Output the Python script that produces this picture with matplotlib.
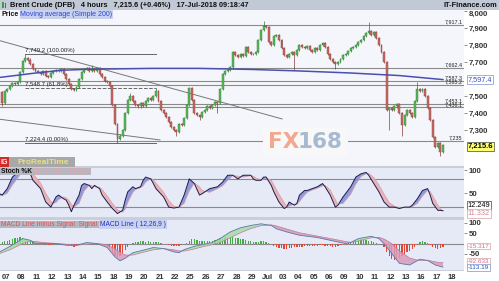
import matplotlib
matplotlib.use('Agg')
import matplotlib.pyplot as plt
from matplotlib.patches import Rectangle
from matplotlib.transforms import blended_transform_factory as btf
import numpy as np

# ---------------- data ----------------
first_bar = -2
first_open = 7527
closes = [7462, 7530,
          7545, 7560, 7575, 7570, 7585, 7640, 7705, 7725, 7715, 7690, 7660, 7650,
          7640, 7630, 7645, 7620, 7610, 7635, 7650, 7655, 7645, 7660, 7630, 7600,
          7570, 7545, 7535, 7555, 7600, 7640, 7660, 7665, 7650, 7660, 7650, 7665,
          7630, 7610, 7590, 7585, 7560, 7450, 7340, 7250, 7270, 7300, 7400, 7480,
          7500, 7470, 7450, 7440, 7460, 7445, 7470, 7490, 7480, 7500, 7530, 7470,
          7420, 7400, 7380, 7350, 7320, 7300, 7290, 7340, 7330, 7370, 7450, 7550,
          7480, 7400, 7390, 7380, 7410, 7420, 7440, 7430, 7450, 7465, 7460, 7540,
          7630, 7650, 7655, 7670, 7760, 7740, 7730, 7745, 7735, 7790, 7760, 7750,
          7745, 7760, 7830, 7890, 7910, 7905, 7820, 7800, 7850, 7860, 7830, 7780,
          7740, 7730, 7750, 7760, 7740, 7770, 7800, 7790, 7780, 7795, 7770, 7760,
          7780, 7770, 7800, 7810, 7790, 7750, 7720, 7700, 7690, 7700, 7720, 7740,
          7750, 7765, 7780, 7790, 7800, 7815, 7830, 7850, 7870, 7880, 7860, 7875,
          7840, 7800, 7760, 7700, 7420, 7430, 7420, 7440, 7455, 7400, 7330, 7390,
          7420, 7400, 7380, 7470, 7540, 7530, 7540, 7500, 7430, 7360, 7260, 7200,
          7225, 7175, 7215.6]
wick_bars = [-2, 7, 33, 43, 48, 58, 66, 75, 82, 100, 112, 128, 141, 149, 154, 160, 169]
wick_vals = [7440, 7749.2, 7680, 7224.4, 7520, 7550, 7270, 7360, 7400, 7940, 7655, 7662,
             7937, 7300, 7265, 7585, 7150]

ma_bars = [-3, 10, 21, 32, 56, 75, 95, 114, 134, 153, 170]
ma_vals = [7610, 7634, 7652, 7658, 7663, 7663, 7657, 7648, 7636, 7621, 7597.4]

levels = [7917.1, 7662.4, 7587.3, 7565.2, 7453.1, 7436.1, 7235]
level_labels = ['7,917.1', '7,662.4', '7,587.3', '7,565.2', '7,453.1', '7,436.1', '7,235']
fib_levels = [7749.2, 7548.7, 7224.4]
fib_labels = ['7,749.2 (100.00%)', '7,548.7 (61.8%)', '7,224.4 (0.00%)']
fib_span = (7, 58)
trend1 = [(-2.84, 7825), (107.2, 7367)]
trend2 = [(-2.84, 7365), (59.6, 7244)]

stoch_bars = [-3, -2, 0, 2, 5, 8, 9, 10, 13, 15, 17, 18, 19, 20, 22, 23, 24, 25, 26, 28, 29, 30,
              32, 33, 34, 36, 37, 39, 41, 43, 45, 46, 47, 49, 50, 52, 53, 54, 56, 57, 58, 61,
              63, 65, 67, 69, 71, 73, 75, 76, 79, 82, 84, 86, 88, 90, 92, 95, 96, 97, 99, 100,
              101, 103, 104, 106, 108, 109, 110, 112, 113, 114, 116, 117, 119, 121, 123, 124,
              126, 128, 129, 131, 134, 136, 138, 140, 141, 143, 145, 147, 149, 151, 153, 155,
              157, 158, 160, 162, 164, 165, 166, 168, 169, 170]
stoch_k = [49, 46, 60, 85, 99, 100, 92, 78, 60, 31, 20, 31, 42, 46, 38, 35, 24, 10, 24, 46, 67, 71,
           67, 60, 67, 60, 46, 31, 17, 6, 13, 35, 53, 64, 60, 64, 78, 85, 81, 71, 60, 42,
           20, 18, 20, 46, 81, 71, 46, 49, 60, 64, 74, 89, 89, 81, 89, 89, 81, 78, 78, 85,
           85, 67, 53, 31, 17, 20, 31, 24, 28, 46, 56, 56, 60, 64, 71, 64,
           46, 20, 24, 42, 64, 85, 92, 95, 89, 71, 53, 31, 20, 20, 17, 20,
           20, 24, 38, 56, 60, 46, 28, 13, 13, 12.249]
stoch_d = [45, 45, 50, 68, 90, 98, 97, 92, 72, 50, 32, 28, 30, 36, 42, 40, 35, 26, 20, 28, 42, 55,
           68, 66, 64, 63, 58, 44, 28, 14, 9, 16, 30, 52, 58, 62, 66, 74, 82, 79, 72, 52,
           34, 22, 19, 28, 55, 72, 64, 56, 52, 60, 66, 78, 88, 87, 85, 88, 87, 83, 79, 80,
           83, 78, 68, 48, 30, 22, 22, 27, 26, 32, 46, 52, 57, 61, 66, 67,
           57, 36, 26, 28, 48, 70, 86, 92, 93, 84, 68, 48, 30, 22, 19, 19,
           20, 21, 28, 44, 56, 54, 44, 24, 16, 11.332]

macd_bars = [-3, 1, 4, 6, 9, 11, 15, 19, 23, 27, 31, 35, 39, 42, 44, 46, 49, 53, 57, 61, 65, 67,
             69, 73, 76, 80, 83, 87, 91, 95, 99, 103, 105, 109, 114, 121, 127, 132, 134, 137,
             142, 145, 147, 150, 153, 157, 161, 164, 167, 170]
macd_line = [-40, -14, 8, 24, 16, 0, 0, 0, -8, -8, 5, 0, -19, -64, -83, -71, -44, -32, -19, -24,
             -40, -44, -29, -13, -5, 5, 24, 56, 76, 87, 95, 87, 71, 56, 40, 29, 13, 0, 5, 24,
             35, 24, 0, -48, -95, -103, -75, -81, -103, -113.19]
macd_signal = [-48, -30, -12, 0, 12, 10, 4, 1, -3, -8, -3, 1, -6, -25, -42, -55, -55, -42, -30, -24,
               -30, -35, -36, -26, -16, -5, 5, 28, 52, 72, 86, 90, 85, 70, 52, 36, 22, 10, 6, 12,
               28, 30, 22, 0, -35, -70, -82, -80, -88, -92.633]
macd_hist = [6, 10, 14, 18, 22, 26, 28, 30, 28, 24, 18, 12, 6, 2,
             0, -1, -3, -5, -7, -8, -6, -3, -1,
             0, -2, -6, -10, -14, -16, -12, -6, -1,
             4, 6, 5, 3, 2, 0, -2, -5,
             -10, -18, -28, -45, -60, -64, -58, -45, -30, -15, -3, 4, 7,
             9, 10, 10, 9, 10, 9, 8, 8, 6, 3, 0, -3, -7,
             -10, -13, -14, -12, -8, -3, 2,
             12, 22, 24, 18, 14, 12,
             10, 10, 12, 14, 18, 22, 25, 28, 30, 31, 31, 30, 28, 26, 24, 20, 16, 12, 10,
             8, 7, 8, 10, 10, 8, 4,
             -4, -10, -16, -20, -23, -24, -24, -22, -20, -18, -17, -16, -15, -14, -13, -12,
             -11, -10, -10, -9, -9, -10, -12, -14, -15, -15, -12, -8, -4,
             0, 4, 8, 12, 16, 19, 20, 19, 17, 14, 10, 6, 2,
             -3, -8, -15, -40, -60, -75, -80, -78, -70, -60, -50, -42, -35,
             -28, -18, -6, 6, 10, 8, 2,
             -8, -16, -22, -24, -20, -15.317]

day_labels = ['07', '08', '11', '12', '13', '14', '15', '18', '19', '20', '21', '22', '25', '26',
              '27', '28', '29', 'Jul', '03', '04', '05', '06', '09', '10', '11', '12', '13', '16',
              '17', '18']
bars_per_day = 6

# ---------------- layout ----------------
W, H = 499, 281
fig = plt.figure(figsize=(W / 100, H / 100), dpi=100)
fig.patch.set_facecolor('#c9ced8')

def rect(x0, y0, x1, y1):
    return [x0 / W, 1 - y1 / H, (x1 - x0) / W, (y1 - y0) / H]

def fx(x):
    return x / W

def fy(y):
    return 1 - y / H

fig.patches.append(Rectangle((fx(464), 0), 1 - fx(464), fy(10), transform=fig.transFigure,
                             facecolor='#ffffff', edgecolor='none', zorder=-2))
fig.patches.append(Rectangle((0, 0), 1, fy(270.5), transform=fig.transFigure,
                             facecolor='#ffffff', edgecolor='none', zorder=-2))

XL = (-2.84, 178.2)
FONT = 'Liberation Sans'

ax = fig.add_axes(rect(0, 10, 464, 166))
axs = fig.add_axes(rect(0, 167.5, 464, 217))
axm = fig.add_axes(rect(0, 219.5, 464, 270))
for a, bg in ((ax, '#f4f6fb'), (axs, '#e6eaf7'), (axm, '#e6eaf7')):
    a.set_facecolor(bg)
    a.set_xlim(*XL)
    for s in a.spines.values():
        s.set_visible(False)
    a.yaxis.tick_right()
    a.tick_params(axis='y', length=2, width=0.5, color='#666', pad=1.5, labelsize=5.6,
                  labelcolor='#333')
    a.tick_params(axis='x', length=0, labelbottom=False)

# ---------------- price ----------------
ax.set_ylim(7091.5, 8004.9)
bars = np.arange(first_bar, first_bar + len(closes))
opens = [first_open] + closes[:-1]
wick_map = dict(zip(wick_bars, wick_vals))
for b, o, c in zip(bars, opens, closes):
    up = c >= o
    fc = '#5cb85c' if up else '#c86a64'
    ec = '#2f7a2f' if up else '#8a3a36'
    lo, hi = min(o, c), max(o, c)
    wl, wh = lo - 6, hi + 6
    if b in wick_map:
        v = wick_map[b]
        if v > hi:
            wh = v
        else:
            wl = v
    ax.vlines(b, wl, wh, color=ec, lw=0.5, zorder=3)
    ax.bar(b, max(hi - lo, 3), bottom=lo, width=0.75, color=fc, edgecolor=ec, lw=0.3, zorder=4)

ax.plot(ma_bars, ma_vals, color='#4a4fb0', lw=1.1, zorder=5)

lab_offsets = [5, 5, 5, 2, 5, 1, 5]
for lv, lb, off in zip(levels, level_labels, lab_offsets):
    ax.axhline(lv, color='#8a8a8a', lw=0.8, zorder=2)
    ax.text(177.6, lv + off, lb, ha='right', va='bottom', fontsize=3.9, color='#222',
            family=FONT, zorder=6)
for i, (lv, lb) in enumerate(zip(fib_levels, fib_labels)):
    ax.plot(fib_span, [lv, lv], color='#666', lw=0.7, ls='--' if i == 1 else '-', zorder=2)
    ax.text(fib_span[0], lv + 6, lb, ha='left', va='bottom', fontsize=4.3, color='#222',
            family=FONT, zorder=6)
for t in (trend1, trend2):
    ax.plot([t[0][0], t[1][0]], [t[0][1], t[1][1]], color='#777', lw=0.7, zorder=2)

ax.set_yticks([7300, 7400, 7500, 7700, 7800, 7900, 8000])
plabs = ax.set_yticklabels(['7,300', '7,400', '7,500', '7,700', '7,800', '7,900', '8,000'],
                           fontweight='bold', family=FONT)
plabs[-1].set_verticalalignment('top')
tb = btf(ax.transAxes, ax.transData)
ax.text(1.008, ma_vals[-1], '7,597.4', transform=tb, fontsize=5.3, color='#3a4fc8',
        va='center', ha='left', family=FONT,
        bbox=dict(boxstyle='square,pad=0.15', fc='#ffffff', ec='#8090d0', lw=0.5))
ax.text(1.008, closes[-1] - 8, '7,215.6', transform=tb, fontsize=5.5, color='#000',
        fontweight='bold', va='center', ha='left', family=FONT,
        bbox=dict(boxstyle='square,pad=0.15', fc='#ffff70', ec='#444', lw=0.5))

# ---------------- stochastic ----------------
axs.set_ylim(-1.4, 105.7)
for lv in (80, 20):
    axs.axhline(lv, color='#8a8a8a', lw=0.8, zorder=1)
k = np.array(stoch_k, float)
d = np.array(stoch_d, float)
axs.fill_between(stoch_bars, k, d, where=k >= d, interpolate=True, color='#7e86d6',
                 alpha=0.8, lw=0, zorder=2)
axs.fill_between(stoch_bars, k, d, where=k < d, interpolate=True, color='#e8b0b8',
                 alpha=0.95, lw=0, zorder=2)
axs.plot(stoch_bars, d, color='#d89aa0', lw=0.5, zorder=3)
axs.plot(stoch_bars, k, color='#1c1c4a', lw=0.7, zorder=4)
axs.set_yticks([100, 50])
axs.set_yticklabels(['100', '50'], fontweight='bold', family=FONT)
ts = btf(axs.transAxes, axs.transData)
axs.text(1.008, 24, '12.249', transform=ts, fontsize=5.3, color='#000', va='center',
         family=FONT, bbox=dict(boxstyle='square,pad=0.12', fc='#fff', ec='#444', lw=0.5))
axs.text(1.008, 7, '11.332', transform=ts, fontsize=5.3, color='#d08890', va='center',
         family=FONT, bbox=dict(boxstyle='square,pad=0.12', fc='#fff', ec='#d8a0a8', lw=0.5))

# ---------------- MACD ----------------
axm.set_ylim(-127, 115.7)
axm.axhline(0, color='#8a8a8a', lw=0.8, zorder=1)
hb = np.arange(first_bar, first_bar + len(macd_hist))
hv = np.array(macd_hist, float)
axm.bar(hb, hv, width=0.5, color=np.where(hv >= 0, '#3fae3f', '#e0463a'), lw=0, zorder=2)
ml = np.array(macd_line, float)
sg = np.array(macd_signal, float)
axm.fill_between(macd_bars, ml, sg, where=ml >= sg, interpolate=True, color='#a6dca6',
                 alpha=0.85, lw=0, zorder=3)
axm.fill_between(macd_bars, ml, sg, where=ml < sg, interpolate=True, color='#d89ab8',
                 alpha=0.85, lw=0, zorder=3)
axm.plot(macd_bars, sg, color='#c07898', lw=0.5, zorder=4)
axm.plot(macd_bars, ml, color='#5a78a8', lw=0.6, zorder=4)
axm.set_yticks([100, 50, -50])
axm.set_yticklabels(['100', '50', '-50'], fontweight='bold', family=FONT)
tm = btf(axm.transAxes, axm.transData)
axm.text(1.008, -12, '-15.317', transform=tm, fontsize=4.6, color='#d07080', va='center',
         family=FONT, bbox=dict(boxstyle='square,pad=0.1', fc='#fff', ec='#d8a0a8', lw=0.5))
axm.text(1.008, -86, '-92.633', transform=tm, fontsize=4.6, color='#d07080', va='center',
         family=FONT, bbox=dict(boxstyle='square,pad=0.1', fc='#fff', ec='#d8a0a8', lw=0.5))
axm.text(1.008, -115, '-113.19', transform=tm, fontsize=4.6, color='#2f4fc0', va='center',
         family=FONT, bbox=dict(boxstyle='square,pad=0.1', fc='#fff', ec='#8090d0', lw=0.5))

day_pos = [bars_per_day * i - 0.5 for i in range(len(day_labels))]
axm.set_xticks(day_pos)
axm.set_xticklabels(day_labels, family=FONT, fontweight='bold')
axm.tick_params(axis='x', labelbottom=True, labelsize=5.5, labelcolor='#333', pad=3)

# ---------------- overlays ----------------
def frect(x0, y0, x1, y1, **kw):
    fig.patches.append(Rectangle((fx(x0), fy(y1)), fx(x1 - x0), (y1 - y0) / H,
                                 transform=fig.transFigure, zorder=5, **kw))

frect(0, 0, 499, 10, facecolor='#c2c9d6', edgecolor='none')
frect(1.5, 2.5, 3.5, 7.5, facecolor='#3c9c3c', edgecolor='none')
frect(4.5, 3.5, 6.5, 8, facecolor='#c04040', edgecolor='none')
fig.text(fx(10), fy(5.2), 'Brent Crude (DFB)   4 hours   7,215.6 (+0.46%)   17-Jul-2018 09:18:47',
         fontsize=5.3, fontweight='bold', family=FONT, va='center', ha='left', color='#111', zorder=6)
fig.text(fx(497), fy(5.2), 'IT-Finance.com', fontsize=5.3, fontweight='bold', family=FONT,
         va='center', ha='right', color='#111', zorder=6)
fig.text(fx(1), fy(14.5), 'Price', fontsize=5, fontweight='bold', family=FONT, va='center',
         ha='left', color='#111', zorder=6)
fig.text(fx(20.5), fy(14.5), 'Moving average (Simple 200)', fontsize=5, family=FONT,
         va='center', ha='left', color='#2a44d8', zorder=6,
         bbox=dict(boxstyle='square,pad=0.1', fc='#c8d2ee', ec='none'))

frect(0, 157, 75, 167, facecolor='#a8a8a8', edgecolor='none')
frect(0, 157, 9, 167, facecolor='#d42a2a', edgecolor='none')
fig.text(fx(4.5), fy(162.3), 'IG', fontsize=5, fontweight='bold', family=FONT, color='#fff',
         ha='center', va='center', zorder=6)
fig.text(fx(18), fy(162.3), 'ProRealTime', fontsize=6, fontweight='bold', family=FONT,
         color='#e8e07a', ha='left', va='center', zorder=6)

frect(0, 168, 91, 175, facecolor='#b4b8c2', edgecolor='none')
fig.text(fx(1), fy(171.6), 'Stoch %K', fontsize=4.8, fontweight='bold', family=FONT,
         color='#111', ha='left', va='center', zorder=6)
fig.text(fx(33), fy(171.6), 'Stoch %D ( 14,3,5 )', fontsize=4.8, family=FONT,
         color='#eaa4a8', ha='left', va='center', zorder=6)

frect(0, 221, 166, 228, facecolor='#b4b8c2', edgecolor='none')
fig.text(fx(1), fy(224.6), "MACD Line minus Signal  Signal", fontsize=4.8, family=FONT,
         color='#e05050', ha='left', va='center', zorder=6)
fig.text(fx(100), fy(224.6), 'MACD Line ( 12,26,9 )', fontsize=4.8, family=FONT,
         color='#1f30c8', ha='left', va='center', zorder=6,
         bbox=dict(boxstyle='square,pad=0.1', fc='#c8d2ee', ec='none'))

frect(263, 128, 348, 155, facecolor='#f8f8f8', edgecolor='none')
fig.text(fx(268), fy(142), 'FX', fontsize=15.5, fontweight='bold', family='DejaVu Sans',
         color='#f2a890', ha='left', va='center', zorder=6)
fig.text(fx(298), fy(142), '168', fontsize=15.5, fontweight='bold', family='DejaVu Sans',
         color='#a6bad2', ha='left', va='center', zorder=6)

fig.savefig('out.png', dpi=100, facecolor=fig.get_facecolor())
